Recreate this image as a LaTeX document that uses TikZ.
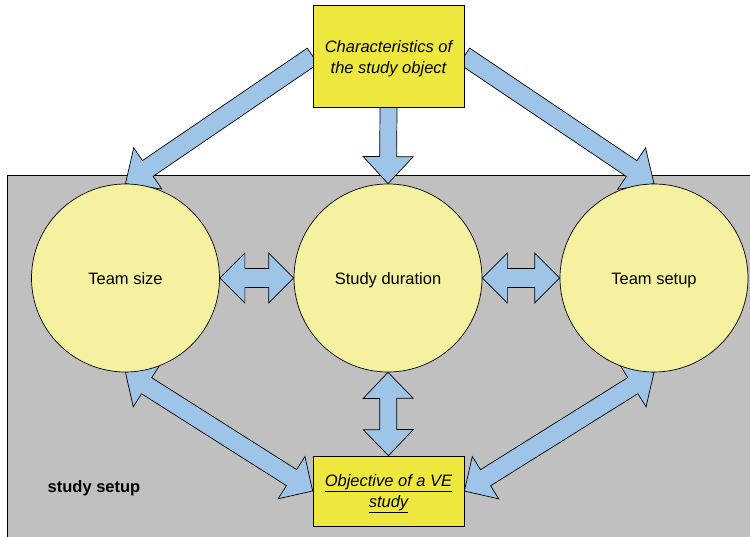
\documentclass[tikz,border=0pt]{standalone}
\usepackage{fontspec}
\setmainfont{Liberation Sans}
\usetikzlibrary{calc,backgrounds}
\definecolor{bggray}{RGB}{192,192,192}
\definecolor{boxyellow}{RGB}{238,232,62}
\definecolor{circyellow}{RGB}{245,241,160}
\definecolor{arrowblue}{RGB}{158,196,232}
\tikzset{
  blk/.style={draw=black, fill=arrowblue, line width=0.7pt, line join=miter},
  bubble/.style={circle, draw=black, fill=circyellow, line width=0.7pt, minimum size=188pt, inner sep=0pt, text height=12.5pt, text depth=0pt, font=\fontsize{16.5}{20}\selectfont},
  ybox/.style={rectangle, draw=black, fill=boxyellow, line width=0.7pt, minimum width=151pt, inner sep=0pt, align=center, font=\fontsize{16.5}{21.5}\selectfont\itshape},
  region/.style={draw=black, fill=bggray, line width=0.7pt},
  regionlabel/.style={font=\fontsize{16.5}{20}\selectfont\bfseries},
}
% single block arrow: #1 from, #2 to, #3 half shaft, #4 half head, #5 head length
\newcommand\sarrow[5]{%
  \coordinate (hbB) at ($(#2)!#5!(#1)$);
  \path[blk] ($(#1)!#3!90:(#2)$) -- ($(hbB)!#3!90:(#2)$) -- ($(hbB)!#4!90:(#2)$) -- (#2)
    -- ($(hbB)!#4!-90:(#2)$) -- ($(hbB)!#3!-90:(#2)$) -- ($(#1)!#3!-90:(#2)$) -- cycle;}
% double block arrow
\newcommand\darrow[5]{%
  \coordinate (hbA) at ($(#1)!#5!(#2)$);
  \coordinate (hbB) at ($(#2)!#5!(#1)$);
  \path[blk] (#1) -- ($(hbA)!#4!90:(#2)$) -- ($(hbA)!#3!90:(#2)$) -- ($(hbB)!#3!90:(#2)$)
    -- ($(hbB)!#4!90:(#2)$) -- (#2) -- ($(hbB)!#4!-90:(#2)$) -- ($(hbB)!#3!-90:(#2)$)
    -- ($(hbA)!#3!-90:(#2)$) -- ($(hbA)!#4!-90:(#2)$) -- cycle;}
\begin{document}
\begin{tikzpicture}[x=1pt,y=-1pt]
  \clip (0,0) rectangle (750,537);
  % nodes
  \node[bubble] (ts)  at (125.5,278) {Team size};
  \node[bubble] (sd)  at (388,278) {Study duration};
  \node[bubble] (tsu) at (654,278) {Team setup};
  \node[ybox, minimum height=102pt] (char) at (388.5,56) {\rule{0pt}{17pt}Characteristics of\\the study object};
  \node[ybox, minimum height=70pt, font=\fontsize{16.5}{20.5}\selectfont\itshape] (obj) at (388.5,491) {\rule{0pt}{17.5pt}\underline{Objective of a VE}\\\underline{study}};
  \begin{pgfonlayer}{background}
    \path[region] (7,175) rectangle (760,545);
    \node[regionlabel] (lbl) at (94,488) {study setup};
    \sarrow{char.west}{ts.north}{9.5pt}{25pt}{27pt}
    \sarrow{char.east}{tsu.north}{9.5pt}{25pt}{27pt}
    \sarrow{char.south}{sd.north}{8.5pt}{25pt}{27pt}
    \darrow{ts.east}{sd.west}{9.5pt}{25pt}{25pt}
    \darrow{sd.east}{tsu.west}{9.5pt}{25pt}{25pt}
    \darrow{sd.south}{obj.north}{8.5pt}{25pt}{26pt}
    \darrow{ts.south}{obj.west}{9.5pt}{25pt}{25pt}
    \darrow{obj.east}{tsu.south}{9.5pt}{25pt}{25pt}
  \end{pgfonlayer}
\end{tikzpicture}
\end{document}
